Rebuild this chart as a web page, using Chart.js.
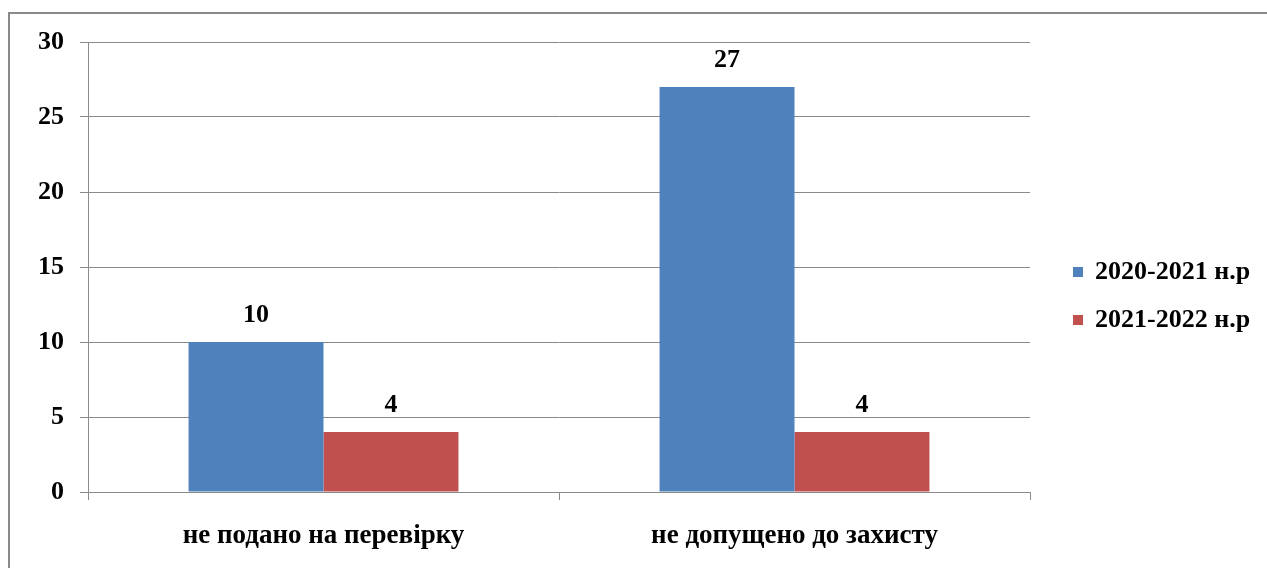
<!DOCTYPE html>
<html>
<head>
<meta charset="utf-8">
<script src="https://cdn.jsdelivr.net/npm/chart.js@4"></script>
<style>
html,body{margin:0;padding:0;background:#fff;overflow:hidden;}
#wrap{position:relative;width:1267px;height:568px;}
</style>
</head>
<body>
<div id="wrap"><canvas id="c" width="1267" height="568"></canvas></div>
<script>
const categories = ["не подано на перевірку", "не допущено до захисту"];
const seriesLabels = ["2020-2021 н.р", "2021-2022 н.р"];
const series2020 = [10, 27];
const series2021 = [4, 4];
const yTicks = [0, 5, 10, 15, 20, 25, 30];

const FONT = "'Liberation Serif', 'Times New Roman', serif";
const colors = ["#4F81BD", "#C0504D"];

const frame = {
  id: 'frame',
  beforeDraw(chart) {
    const ctx = chart.ctx;
    ctx.save();
    ctx.fillStyle = '#fff';
    ctx.fillRect(0, 0, chart.width, chart.height);
    ctx.strokeStyle = '#8a8a8a';
    ctx.lineWidth = 2;
    ctx.strokeRect(9, 13, 1400, 700);
    ctx.restore();
  }
};

const labelsPlugin = {
  id: 'valueLabels',
  afterDatasetsDraw(chart) {
    const ctx = chart.ctx;
    ctx.save();
    ctx.font = "bold 26px " + FONT;
    ctx.fillStyle = '#000';
    ctx.textAlign = 'center';
    ctx.textBaseline = 'bottom';
    chart.data.datasets.forEach((ds, i) => {
      const meta = chart.getDatasetMeta(i);
      meta.data.forEach((bar, j) => {
        ctx.fillText(String(ds.data[j]), bar.x, bar.y - 14);
      });
    });
    ctx.restore();
  }
};

const legendPlugin = {
  id: 'customLegend',
  afterDraw(chart) {
    const ctx = chart.ctx;
    ctx.save();
    ctx.font = "bold 26px " + FONT;
    ctx.textBaseline = 'middle';
    ctx.textAlign = 'left';
    chart.data.datasets.forEach((ds, i) => {
      const y = 272 + i * 48;
      ctx.fillStyle = ds.backgroundColor;
      ctx.fillRect(1073, y - 5, 10, 10);
      ctx.fillStyle = '#000';
      ctx.fillText(ds.label, 1095, y);
    });
    ctx.restore();
  }
};

new Chart(document.getElementById('c'), {
  type: 'bar',
  data: {
    labels: categories,
    datasets: [
      { label: seriesLabels[0], data: series2020, backgroundColor: colors[0] },
      { label: seriesLabels[1], data: series2021, backgroundColor: colors[1] }
    ]
  },
  options: {
    responsive: false,
    animation: false,
    devicePixelRatio: 1,
    layout: { padding: { left: 0, right: 237, top: 42, bottom: 0 } },
    plugins: { legend: { display: false }, tooltip: { enabled: false } },
    datasets: { bar: { categoryPercentage: 0.573, barPercentage: 1.0, borderWidth: 0 } },
    scales: {
      x: {
        afterFit(s) { s.height = 76; },
        grid: { display: true, drawOnChartArea: false, tickLength: 8, color: '#8a8a8a', offset: true },
        border: { display: true, color: '#8a8a8a' },
        ticks: { color: '#000', font: { family: FONT, size: 27, weight: 'bold' }, padding: 20 }
      },
      y: {
        min: 0, max: 30,
        afterFit(s) { s.width = 88; },
        afterBuildTicks(s) { s.ticks = yTicks.map(v => ({ value: v })); },
        grid: { color: '#8a8a8a', tickLength: 8 },
        border: { display: true, color: '#8a8a8a' },
        ticks: { color: '#000', font: { family: FONT, size: 26, weight: 'bold' }, padding: 16 }
      }
    }
  },
  plugins: [frame, labelsPlugin, legendPlugin]
});
</script>
</body>
</html>
